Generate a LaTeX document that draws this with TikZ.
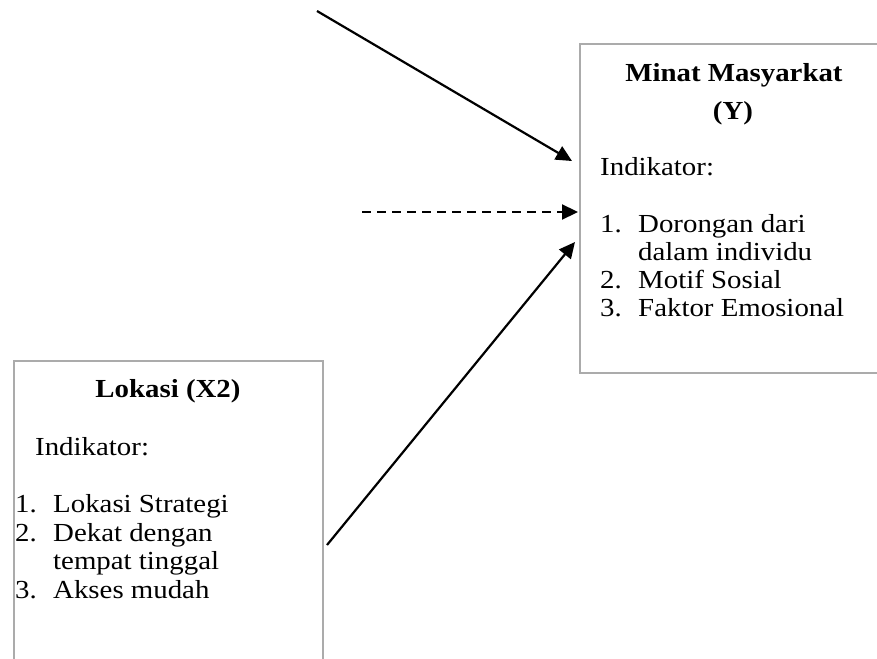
\documentclass[tikz,border=0pt]{standalone}
\usepackage{fontspec}
\setmainfont{Liberation Serif}[FakeStretch=1.11]
\usetikzlibrary{arrows.meta}
\begin{document}
\begin{tikzpicture}[x=1pt,y=-1pt,
  box/.style={draw=black!33, line width=1.8pt, inner sep=0pt, anchor=north west},
  txt/.style={anchor=base west, inner sep=0pt, font=\fontsize{26}{30}\selectfont},
  ttl/.style={anchor=base, inner sep=0pt, font=\fontsize{26}{30}\selectfont\bfseries},
  arr/.style={line width=2.2pt, -{Triangle[length=16pt,width=15pt]}},
  darr/.style={arr, dash pattern=on 9pt off 6pt}]
\useasboundingbox (0,0) rectangle (877,658);
\fill[white] (0,0) rectangle (877,658);
% boxes
\node[box, minimum width=340pt, minimum height=329pt] (Y) at (579,43) {};
\node[box, minimum width=309pt, minimum height=340pt] (X) at (13,360) {};
% Y texts
\node[ttl] (yt1) at (734,82) {Minat Masyarkat};
\node[ttl] (yt2) at (733,120) {(Y)};
\node[txt] (yi) at (600,175) {Indikator:};
\node[txt] (yn1) at (600,232) {1.};
\node[txt] (ya1) at (638,232) {Dorongan dari};
\node[txt] (ya2) at (638,260) {dalam individu};
\node[txt] (yn2) at (600,288) {2.};
\node[txt] (yb) at (638,288) {Motif Sosial};
\node[txt] (yn3) at (600,316) {3.};
\node[txt] (yc) at (638,316) {Faktor Emosional};
% X texts
\node[ttl] (xt) at (168,397) {Lokasi (X2)};
\node[txt] (xi) at (35,455) {Indikator:};
\node[txt] (xn1) at (15,512) {1.};
\node[txt] (xa) at (53,512) {Lokasi Strategi};
\node[txt] (xn2) at (15,541) {2.};
\node[txt] (xb1) at (53,541) {Dekat dengan};
\node[txt] (xb2) at (53,569) {tempat tinggal};
\node[txt] (xn3) at (15,598) {3.};
\node[txt] (xc) at (53,598) {Akses mudah};
% connector endpoints
\coordinate (s1) at (317,11);
\coordinate (e1) at (572,161);
\coordinate (s2) at (362,212);
\coordinate (e2) at (578,212);
\coordinate (s3) at (327,545);
\coordinate (e3) at (575,242);
\draw[arr] (s1) -- (e1);
\draw[darr] (s2) -- (e2);
\draw[arr] (s3) -- (e3);
\end{tikzpicture}
\end{document}
